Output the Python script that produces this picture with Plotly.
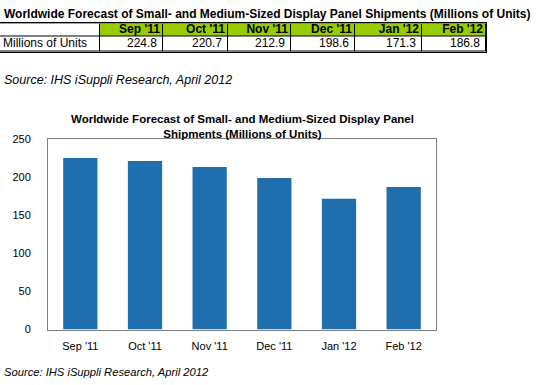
import plotly.graph_objects as go

months = ["Sep '11", "Oct '11", "Nov '11", "Dec '11", "Jan '12", "Feb '12"]
units = [224.8, 220.7, 212.9, 198.6, 171.3, 186.8]
row_label = "Millions of Units"
title_text = "Worldwide Forecast of Small- and Medium-Sized Display Panel Shipments (Millions of Units)"
chart_title = "Worldwide Forecast of Small- and Medium-Sized Display Panel<br>Shipments (Millions of Units)"
source_text = "Source: IHS iSuppli Research, April 2012"
y_ticks = [0, 50, 100, 150, 200, 250]

W, H = 551, 385
FONT = "Liberation Sans, Arial, sans-serif"
GREEN = "#99cc00"
BLUE = "#1f6fae"

# table layout (pixel widths / heights)
col_widths = [100, 63, 65, 63, 64, 67, 64]
row_heights = [16, 13]  # data row (bottom), header row (top)
TABLE_TOP, TABLE_BOTTOM = 18, 47


def px(x):
    return x / W


def py(y):
    return 1 - y / H


x_edges = [0]
for w in col_widths:
    x_edges.append(x_edges[-1] + w)
y_edges = [0, row_heights[0], row_heights[0] + row_heights[1]]

fig = go.Figure()

# table cell fills (heatmap bricks with 1px gaps reveal black borders)
z = [[0] * (len(months) + 1), [0] + [1] * len(months)]
fig.add_trace(go.Heatmap(
    x=x_edges, y=y_edges, z=z,
    colorscale=[[0, "white"], [1, GREEN]], zmin=0, zmax=1,
    showscale=False, xgap=1, ygap=1, hoverinfo="skip",
    xaxis="x2", yaxis="y2",
))

header_y = (y_edges[1] + y_edges[2]) / 2
data_y = (y_edges[0] + y_edges[1]) / 2

fig.add_trace(go.Scatter(
    x=[e - 3 for e in x_edges[2:]], y=[header_y] * len(months),
    text=[f"<b>{m}</b>" for m in months], mode="text",
    textposition="middle left", cliponaxis=False,
    textfont=dict(family=FONT, size=12, color="black"),
    hoverinfo="skip", xaxis="x2", yaxis="y2",
))
fig.add_trace(go.Scatter(
    x=[e - 6 for e in x_edges[2:]] + [x_edges[0] + 3],
    y=[data_y] * (len(units) + 1),
    text=[f"{v:.1f}" for v in units] + [row_label], mode="text",
    textposition=["middle left"] * len(units) + ["middle right"],
    cliponaxis=False,
    textfont=dict(family=FONT, size=12, color="black"),
    hoverinfo="skip", xaxis="x2", yaxis="y2",
))

fig.add_trace(go.Bar(
    x=months, y=units,
    marker=dict(color=BLUE, line_width=0),
    xaxis="x", yaxis="y", hoverinfo="skip",
))

fig.update_layout(
    width=W, height=H,
    margin=dict(l=0, r=0, t=0, b=0),
    paper_bgcolor="white", plot_bgcolor="white",
    showlegend=False,
    bargap=0.47,
    font=dict(family=FONT, size=11, color="black"),
    xaxis=dict(
        domain=[px(48), px(436)],
        showline=True, linecolor="#808080", linewidth=1, mirror=True,
        showgrid=False, ticks="", ticklabelstandoff=6,
        tickfont=dict(size=11), fixedrange=True,
    ),
    yaxis=dict(
        domain=[py(334), py(137)],
        range=[0, 250], tickvals=y_ticks,
        showline=True, linecolor="#808080", linewidth=1, mirror=True,
        showgrid=False, ticks="", ticklabelstandoff=14,
        tickfont=dict(size=11), zeroline=False, fixedrange=True,
    ),
    xaxis2=dict(
        domain=[0, px(x_edges[-1])], range=[0, x_edges[-1]],
        showline=True, linecolor="black", linewidth=1, mirror=True,
        showgrid=False, zeroline=False, showticklabels=False, ticks="",
        fixedrange=True, anchor="y2",
    ),
    yaxis2=dict(
        domain=[py(TABLE_BOTTOM), py(TABLE_TOP)], range=[0, y_edges[-1]],
        showline=True, linecolor="black", linewidth=1, mirror=True,
        showgrid=False, zeroline=False, showticklabels=False, ticks="",
        fixedrange=True, anchor="x2",
    ),
    shapes=[dict(
        type="rect", xref="x2 domain", yref="y2 domain",
        x0=0, x1=1, y0=0, y1=1, fillcolor="black",
        line=dict(width=0), layer="below",
    )],
    annotations=[
        dict(text=f"<b>{title_text}</b>", x=px(2), y=py(8), xref="paper", yref="paper",
             xanchor="left", yanchor="middle", showarrow=False,
             font=dict(family=FONT, size=12, color="black")),
        dict(text=f"<i>{source_text}</i>", x=px(2), y=py(76), xref="paper", yref="paper",
             xanchor="left", yanchor="middle", showarrow=False,
             font=dict(family=FONT, size=12.5, color="black")),
        dict(text=f"<b>{chart_title}</b>", x=px(242), y=py(124), xref="paper", yref="paper",
             xanchor="center", yanchor="middle", showarrow=False,
             font=dict(family=FONT, size=11.5, color="black")),
        dict(text=f"<i>{source_text}</i>", x=px(2), y=py(378), xref="paper", yref="paper",
             xanchor="left", yanchor="middle", showarrow=False,
             font=dict(family=FONT, size=11.2, color="black")),
    ],
)

fig.write_html("out.html", config={"displayModeBar": False},
               post_script="document.body.style.margin='0';")
